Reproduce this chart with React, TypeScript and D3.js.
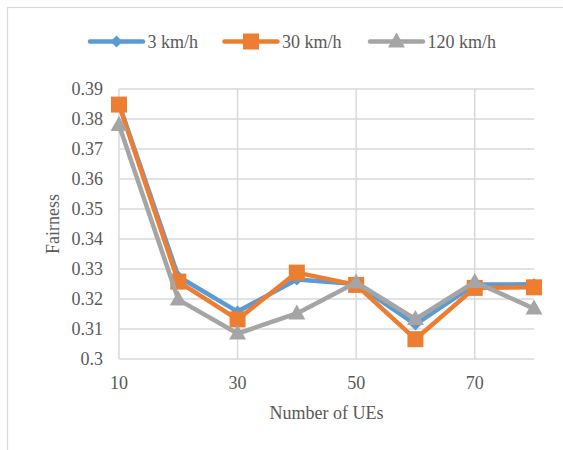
import React from "react";
import * as d3 from "d3";

const ues = [10, 20, 30, 40, 50, 60, 70, 80];
const xTicks = [10, 30, 50, 70];
const yTicks = [0.3, 0.31, 0.32, 0.33, 0.34, 0.35, 0.36, 0.37, 0.38, 0.39];

const slow = [0.385, 0.3275, 0.3158, 0.3265, 0.325, 0.3115, 0.3248, 0.3249];
const medium = [0.3848, 0.3258, 0.3132, 0.3288, 0.3247, 0.3066, 0.3237, 0.3239];
const fast = [0.378, 0.3198, 0.3085, 0.3152, 0.3255, 0.3133, 0.3257, 0.3168];

const seriesNames = ["3 km/h", "30 km/h", "120 km/h"];
const seriesColors = ["#5B9BD5", "#ED7D31", "#A5A5A5"];
const seriesMarkers = ["diamond", "square", "triangle"];

const W = 563;
const H = 450;
const plot = { left: 119, right: 534, top: 89, bottom: 359 };
const font = "Liberation Serif, serif";
const textColor = "#595959";
const gridColor = "#D9D9D9";
const textStyle = { fontFamily: font, fontSize: "18px" };

function Marker({ kind, x, y, color }: { kind: string; x: number; y: number; color: string }) {
  if (kind === "square") {
    const s = 16;
    return <rect x={x - s / 2} y={y - s / 2} width={s} height={s} fill={color} />;
  }
  if (kind === "triangle") {
    const w = 17;
    const h = 15;
    return (
      <path
        d={`M${x},${y - h * 0.6} L${x + w / 2},${y + h * 0.4} L${x - w / 2},${y + h * 0.4} Z`}
        fill={color}
      />
    );
  }
  const r = 6;
  return <path d={`M${x},${y - r} L${x + r},${y} L${x},${y + r} L${x - r},${y} Z`} fill={color} />;
}

export default function App() {
  const x = d3.scaleLinear().domain([10, 80]).range([plot.left, plot.right]);
  const y = d3.scaleLinear().domain([0.3, 0.39]).range([plot.bottom, plot.top]);
  const line = d3
    .line<number>()
    .x((_, i) => x(ues[i]))
    .y((d) => y(d));

  const series = [slow, medium, fast];
  const legendX = [90, 224.5, 370];
  const legendY = 41.5;

  return (
    <svg width={W} height={H} style={{ position: "absolute", left: 0, top: 0, background: "#fff" }}>
      <rect x={7.5} y={7.5} width={600} height={460} fill="#fff" stroke={gridColor} strokeWidth={1.2} />

      {yTicks.map((t) => (
        <line key={"h" + t} x1={plot.left} x2={plot.right} y1={y(t)} y2={y(t)} stroke={gridColor} strokeWidth={1.5} />
      ))}
      {xTicks.map((t) => (
        <line key={"v" + t} x1={x(t)} x2={x(t)} y1={plot.top} y2={plot.bottom} stroke={gridColor} strokeWidth={1.5} />
      ))}

      {yTicks.map((t) => (
        <text key={"yl" + t} x={103} y={y(t) + 6} textAnchor="end" style={textStyle} fill={textColor}>
          {String(+t.toFixed(2))}
        </text>
      ))}
      {xTicks.map((t) => (
        <text key={"xl" + t} x={x(t)} y={389} textAnchor="middle" style={textStyle} fill={textColor}>
          {t}
        </text>
      ))}

      <text x={(plot.left + plot.right) / 2} y={418.5} textAnchor="middle" style={textStyle} fill={textColor}>
        Number of UEs
      </text>
      <text
        transform={`translate(59,${(plot.top + plot.bottom) / 2}) rotate(-90)`}
        textAnchor="middle"
        style={textStyle}
        fill={textColor}
      >
        Fairness
      </text>

      {series.map((vals, si) => (
        <g key={"s" + si}>
          <path
            d={line(vals) || ""}
            fill="none"
            stroke={seriesColors[si]}
            strokeWidth={4.5}
            strokeLinejoin="round"
            strokeLinecap="round"
          />
          {vals.map((v, i) => (
            <Marker key={i} kind={seriesMarkers[si]} x={x(ues[i])} y={y(v)} color={seriesColors[si]} />
          ))}
        </g>
      ))}

      {seriesNames.map((name, si) => {
        const lx = legendX[si];
        return (
          <g key={"lg" + si}>
            <line
              x1={lx}
              x2={lx + 53}
              y1={legendY}
              y2={legendY}
              stroke={seriesColors[si]}
              strokeWidth={4.5}
              strokeLinecap="round"
            />
            <Marker kind={seriesMarkers[si]} x={lx + 26.5} y={legendY} color={seriesColors[si]} />
            <text x={lx + 57.5} y={legendY + 6} style={textStyle} fill={textColor}>
              {name}
            </text>
          </g>
        );
      })}
    </svg>
  );
}
